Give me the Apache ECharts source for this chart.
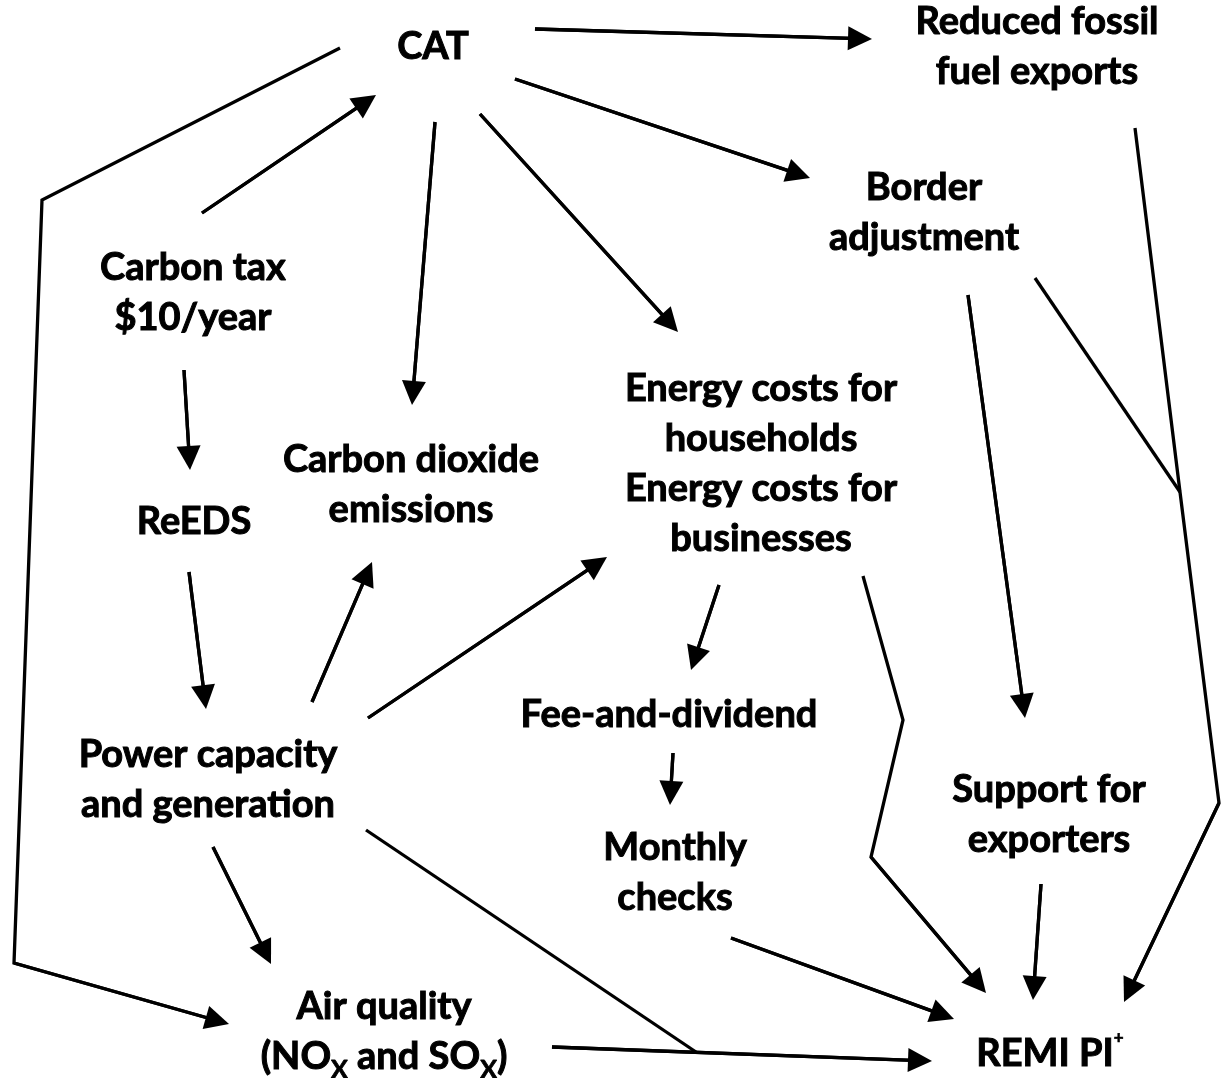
<!DOCTYPE html>
<html>
<head>
<meta charset="utf-8">
<script src="https://cdn.jsdelivr.net/npm/echarts@6/dist/echarts.min.js"></script>
<style>
  html, body { margin: 0; padding: 0; background: #fff; }
  #chart { width: 1225px; height: 1078px; }
</style>
</head>
<body>
<div id="chart"></div>
<script>
// 画布坐标（像素），y 向下
const W = 1225, H = 1078;

// 节点文字及其中心位置
const nodeLabels = [
  'CAT',
  'Reduced fossil\nfuel exports',
  'Border\nadjustment',
  'Carbon tax\n$10/year',
  'ReEDS',
  'Carbon dioxide\nemissions',
  'Energy costs for\nhouseholds\nEnergy costs for\nbusinesses',
  'Fee-and-dividend',
  'Power capacity\nand generation',
  'Monthly\nchecks',
  'Support for\nexporters',
  'Air quality\n(NO{s|X} and SO{s|X})',
  'REMI PI{p|+}'
];
const nodeX = [433, 1037, 924, 193, 194, 411, 761, 669, 208, 675, 1049, 384, 1050];
const nodeY = [47, 47, 213, 293, 522, 485, 464, 715, 780, 873, 815, 1032, 1054];

// 带箭头的连线（折线顶点，最后一点为箭头尖）
const arrowPaths = [
  [[535, 29], [872, 39]],
  [[515, 79], [810, 178]],
  [[480, 114], [678, 332]],
  [[435, 122], [412, 405]],
  [[202, 213], [376, 95]],
  [[340, 48], [42, 200], [14, 963], [229, 1024]],
  [[184, 370], [190, 470]],
  [[189, 572], [206, 709]],
  [[312, 702], [372, 562]],
  [[368, 718], [607, 557]],
  [[213, 847], [271, 964]],
  [[552, 1047], [932, 1061]],
  [[719, 585], [691, 670]],
  [[673, 753], [670, 805]],
  [[731, 938], [954, 1019]],
  [[863, 576], [903, 720], [871, 857], [986, 993]],
  [[968, 295], [1025, 718]],
  [[1041, 884], [1033, 1000]],
  [[1135, 128], [1180, 492], [1219, 803], [1124, 1002]]
];
// 汇入其他线的无箭头连线
const plainPaths = [
  [[366, 830], [696, 1052]],
  [[1035, 278], [1180, 492]]
];

const ARROW_LEN = 24, ARROW_W = 19;

// 箭头符号以端点为中心，所以把终点往回收半个箭头长度
function pullBack(path) {
  const p = path.slice();
  const a = p[p.length - 2], b = p[p.length - 1];
  const dx = b[0] - a[0], dy = b[1] - a[1];
  const len = Math.sqrt(dx * dx + dy * dy);
  const k = (ARROW_LEN / 2) / len;
  p[p.length - 1] = [b[0] - dx * k, b[1] - dy * k];
  return p;
}

const chart = echarts.init(document.getElementById('chart'), null, { renderer: 'canvas' });

const font = 'Lato';
const lineBodies = arrowPaths.map(pullBack).concat(plainPaths);
// 只取最后一段画箭头（polyline 不支持端点符号）
const arrowHeads = arrowPaths.map(pullBack).map(p => p.slice(-2));

const txt = { fontFamily: font, fontWeight: 'bold', color: '#000000', opacity: 1, textBorderColor: '#000000', textBorderWidth: 1 };

chart.setOption({
  backgroundColor: '#ffffff',
  animation: false,
  grid: { left: 0, right: 0, top: 0, bottom: 0 },
  xAxis: { type: 'value', min: 0, max: W, show: false },
  yAxis: { type: 'value', min: 0, max: H, inverse: true, show: false },
  series: [
    {
      type: 'lines',
      coordinateSystem: 'cartesian2d',
      polyline: true,
      silent: true,
      lineStyle: { color: '#000', width: 3.3, opacity: 1, join: 'miter' },
      data: lineBodies.map(p => ({ coords: p }))
    },
    {
      type: 'lines',
      coordinateSystem: 'cartesian2d',
      polyline: false,
      silent: true,
      symbol: ['none', 'triangle'],
      symbolSize: [ARROW_W, ARROW_LEN],
      lineStyle: { color: '#000', width: 3.3, opacity: 1, curveness: 0 },
      data: arrowHeads.map(p => ({ coords: p }))
    },
    {
      type: 'scatter',
      silent: true,
      symbolSize: 1,
      itemStyle: { color: '#ffffff', opacity: 1 },
      label: Object.assign({
        show: true,
        position: 'inside',
        fontSize: 38,
        lineHeight: 50,
        align: 'center',
        formatter: p => nodeLabels[p.dataIndex],
        rich: {
          s: Object.assign({ fontSize: 25, lineHeight: 40, verticalAlign: 'bottom' }, txt, { textBorderWidth: 0.8 }),
          p: Object.assign({ fontSize: 17, lineHeight: 44, verticalAlign: 'top' }, txt, { textBorderWidth: 0.6 })
        }
      }, txt),
      data: nodeX.map((x, i) => [x, nodeY[i]])
    }
  ]
});

window.addEventListener('resize', () => {
  chart.resize();
});
</script>
</body>
</html>
